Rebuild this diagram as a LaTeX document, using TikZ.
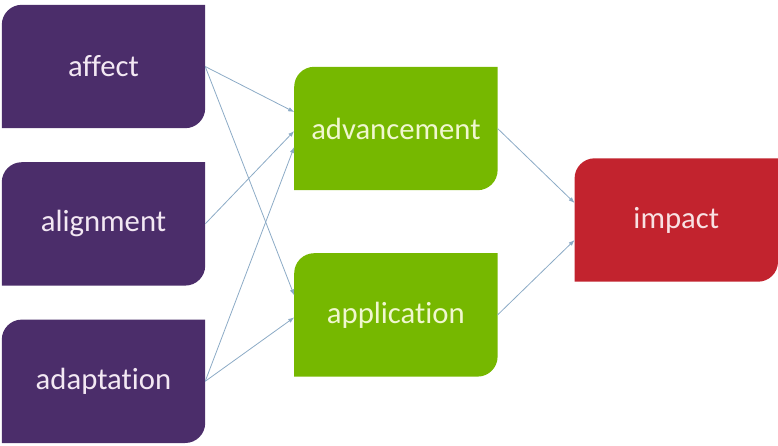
\documentclass[tikz,border=0pt]{standalone}
\usepackage{fontspec}
\setmainfont{Carlito}[Ligatures=CommonOff]
\usetikzlibrary{arrows.meta, positioning, backgrounds}

\definecolor{purp}{HTML}{4B2D6A}
\definecolor{purptext}{HTML}{F3E8F3}
\definecolor{leaf}{HTML}{76B800}
\definecolor{leaftext}{HTML}{F0F7CF}
\definecolor{brick}{HTML}{C2232E}
\definecolor{bricktext}{HTML}{F8E1E3}
\definecolor{arrowblue}{HTML}{8CABC6}

\begin{document}
\begin{tikzpicture}[
    x=1pt, y=1pt,
    node distance=34pt and 89pt,
    every node/.style={font=\fontsize{30.7}{36}\selectfont},
    box/.style={rectangle, minimum width=203pt, minimum height=123pt, inner sep=0pt},
    arrow/.style={-{Latex[length=6pt, width=4.5pt]}, line width=0.8pt, draw=arrowblue}
  ]
  \useasboundingbox (0,0) rectangle (778,-446);

  \node[box, text=purptext] (affect) at (103.5,-66.5) {affect};
  \node[box, text=purptext, below=of affect] (alignment) {alignment};
  \node[box, text=purptext, below=of alignment] (adaptation) {adaptation};

  \node[box, text=leaftext, right=of affect, yshift=-62pt] (advancement) {advancement};
  \node[box, text=leaftext, below=63pt of advancement] (application) {application};

  \node[box, text=bricktext, right=77pt of advancement, yshift=-91.5pt] (impact) {impact};

  % box fills, round corners top left and bottom right only
  \begin{scope}[on background layer]
    \foreach \n/\c in {affect/purp, alignment/purp, adaptation/purp,
                       advancement/leaf, application/leaf, impact/brick}
      \fill[\c] (\n.south west) -- ([yshift=-20pt]\n.north west)
        arc[start angle=180, end angle=90, radius=20pt] -- (\n.north east)
        -- ([yshift=20pt]\n.south east)
        arc[start angle=0, end angle=-90, radius=20pt] -- cycle;
  \end{scope}

  \draw[arrow] (affect.east) -- ([yshift=16.5pt]advancement.west);
  \draw[arrow] (affect.east) -- ([yshift=19.5pt]application.west);
  \draw[arrow] (alignment.east) -- ([yshift=-2.5pt]advancement.west);
  \draw[arrow] (adaptation.east) -- ([yshift=-18.5pt]advancement.west);
  \draw[arrow] (adaptation.east) -- ([yshift=-2.5pt]application.west);

  \draw[arrow] (advancement.east) -- ([yshift=17pt]impact.west);
  \draw[arrow] (application.east) -- ([yshift=-20pt]impact.west);

\end{tikzpicture}
\end{document}
